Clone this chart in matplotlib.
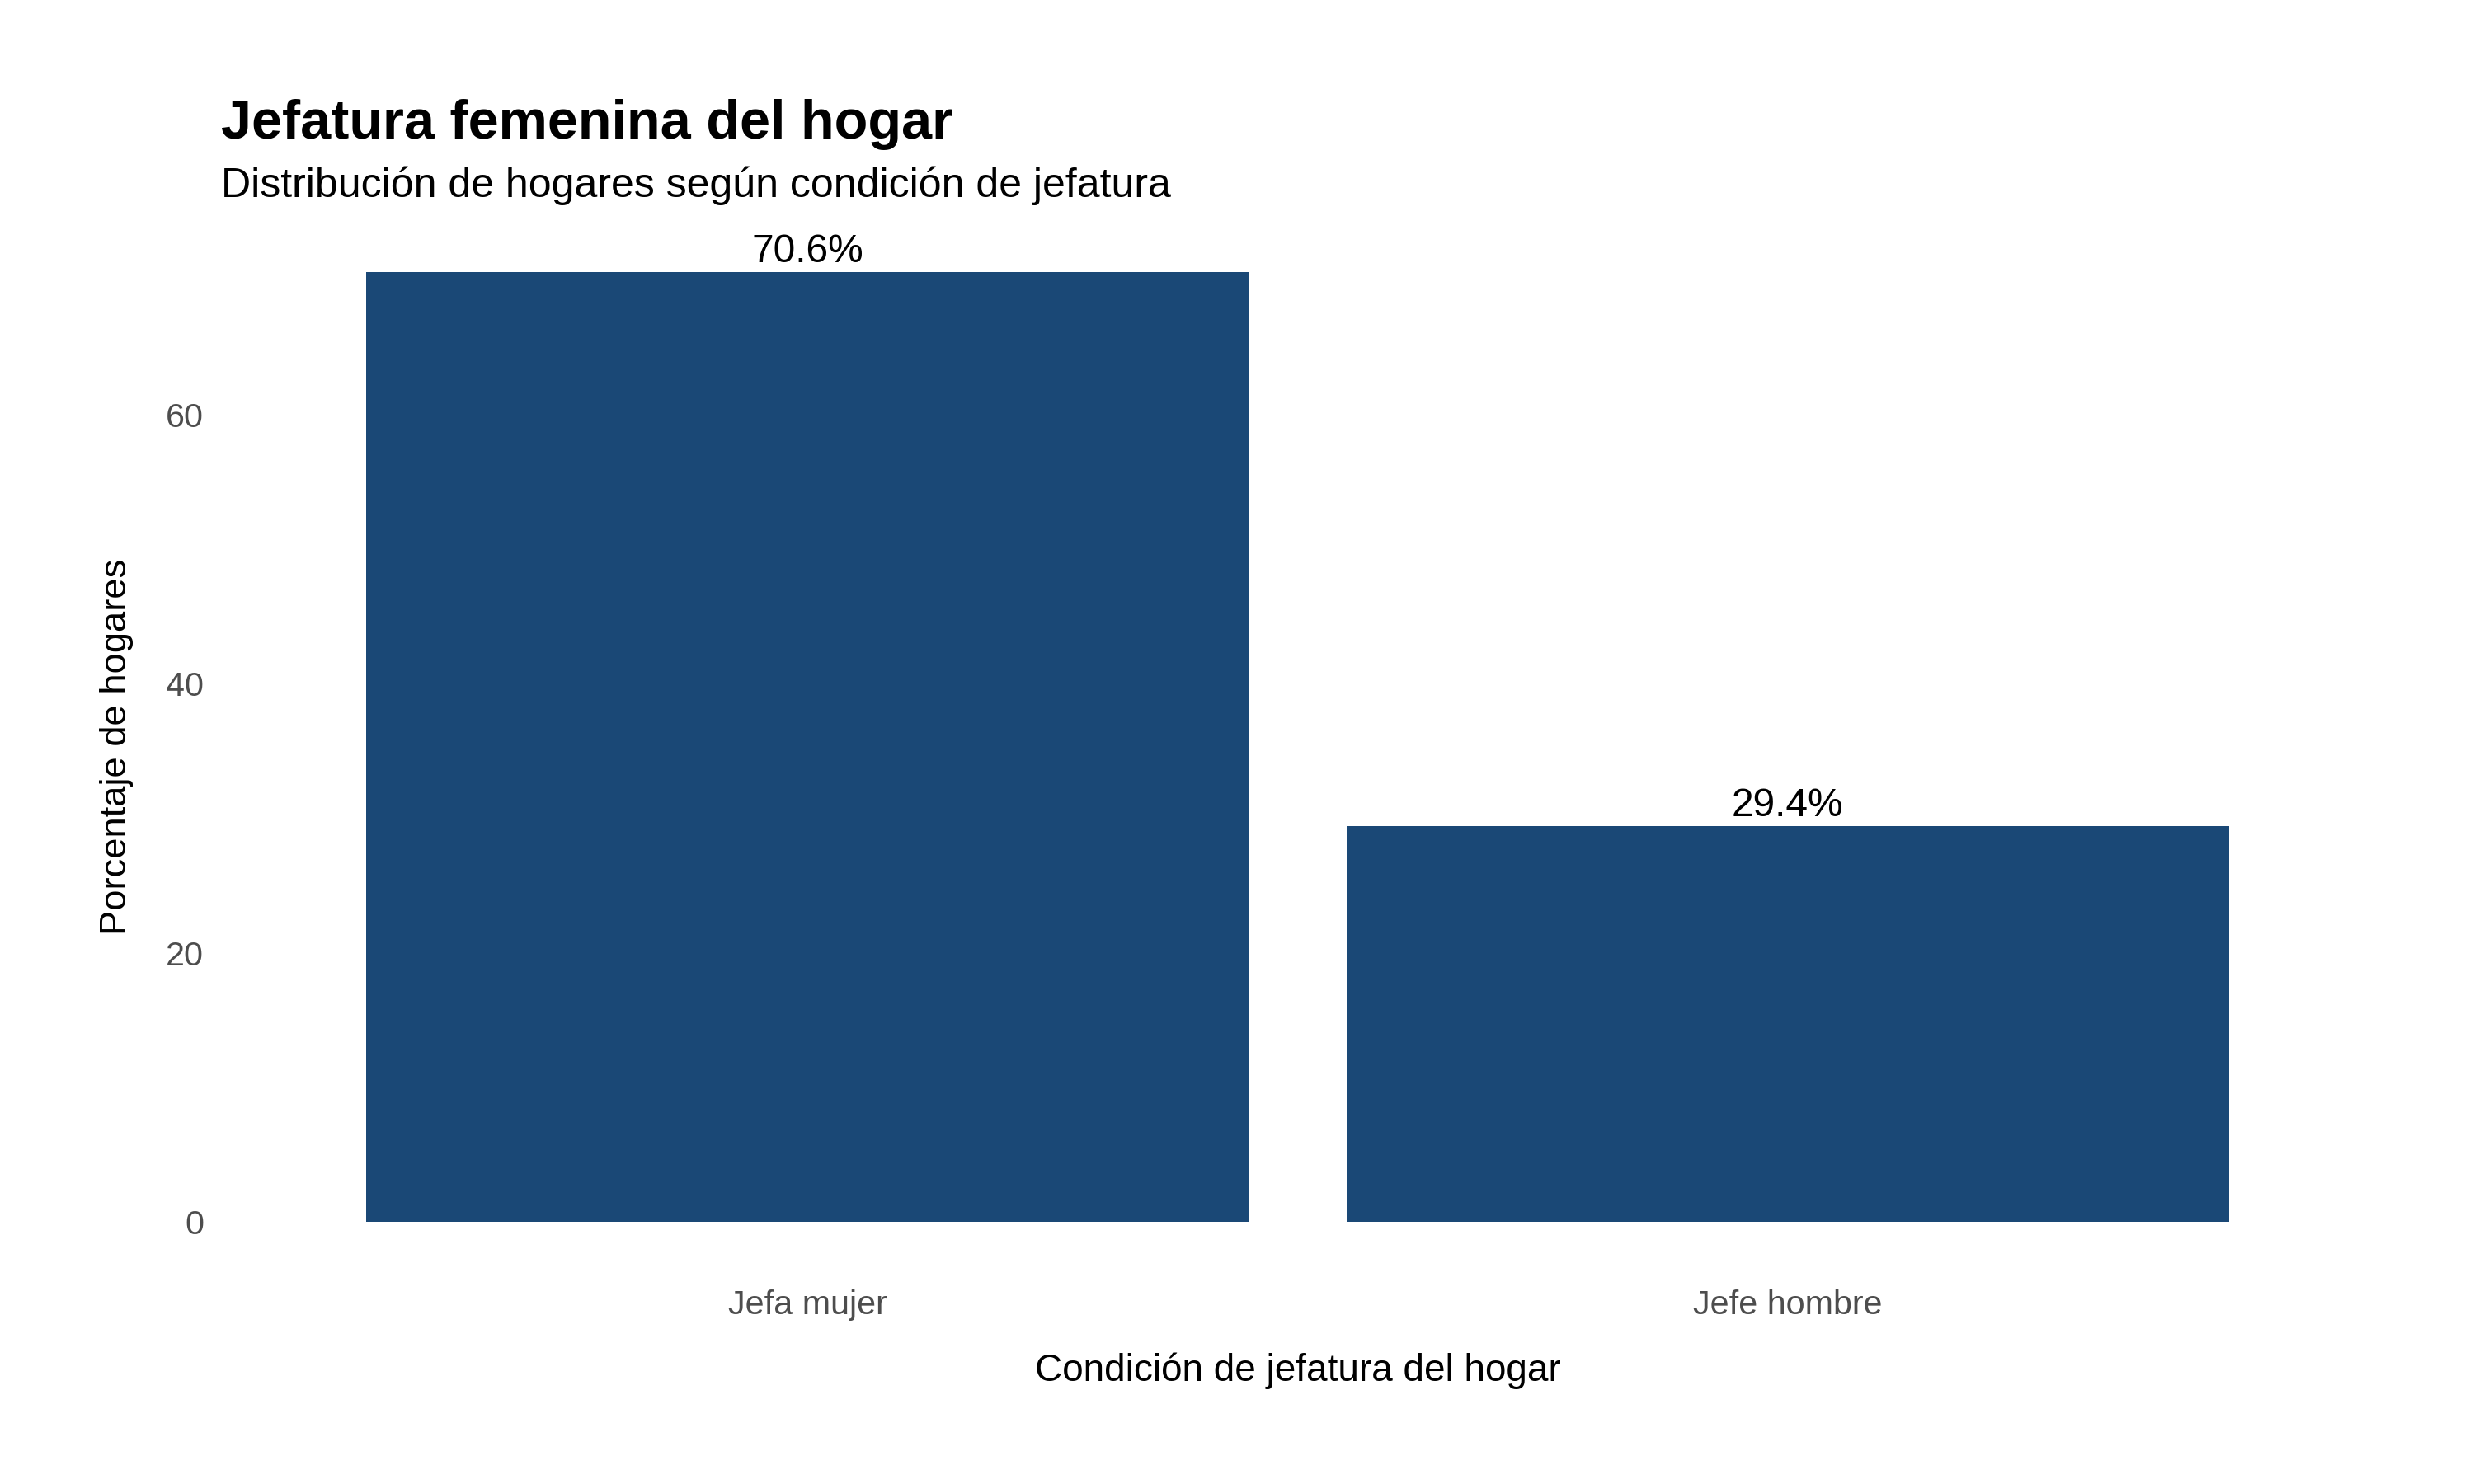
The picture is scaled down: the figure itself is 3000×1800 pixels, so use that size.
import matplotlib
matplotlib.use("Agg")
import matplotlib.pyplot as plt

# datos
categorias = ["Jefa mujer", "Jefe hombre"]
porcentajes = [70.6, 29.4]
etiquetas = ["70.6%", "29.4%"]
ticks_y = [0, 20, 40, 60]

plt.rcParams['font.family'] = ['Liberation Sans', 'DejaVu Sans']

fig = plt.figure(figsize=(10, 6), dpi=300)
# panel: x 266..2881, y 272..1540 (px)
ax = fig.add_axes([266 / 3000, 1 - 1540 / 1800, (2881 - 266) / 3000, (1540 - 272) / 1800])

pos = list(range(len(categorias)))
ax.bar(pos, porcentajes, width=0.9, color="#1a4876")
for x, v, t in zip(pos, porcentajes, etiquetas):
    ax.annotate(t, (x, v), xytext=(0, 0.5), textcoords="offset points",
                ha="center", va="bottom", fontsize=11.5, color="black")

ymax = max(porcentajes)
ax.set_ylim(-0.05 * ymax, 1.05 * ymax)
ax.set_xlim(-0.6, len(categorias) - 0.4)
ax.set_xticks(pos)
ax.set_xticklabels(categorias)
ax.set_yticks(ticks_y)
ax.tick_params(axis="both", length=0, labelsize=9.9, labelcolor="#4d4d4d")
ax.tick_params(axis="x", pad=5.7)
ax.tick_params(axis="y", pad=4.5)
for s in ax.spines.values():
    s.set_visible(False)
ax.grid(False)

ax.set_xlabel("Condición de jefatura del hogar", fontsize=11, labelpad=9.2)
ax.set_ylabel("Porcentaje de hogares", fontsize=10.9, labelpad=9.3)

fig.text(268 / 3000, 1 - 168 / 1800, "Jefatura femenina del hogar",
         fontsize=16, fontweight="bold", ha="left", va="baseline")
fig.text(268 / 3000, 1 - 239 / 1800, "Distribución de hogares según condición de jefatura",
         fontsize=12, ha="left", va="baseline")

fig.savefig("out.png", dpi=300, facecolor="white")
